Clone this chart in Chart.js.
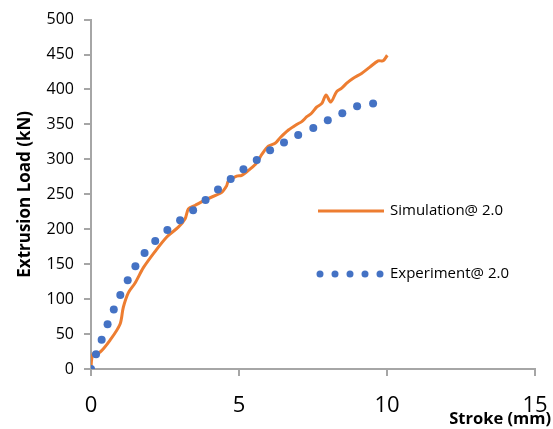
<!DOCTYPE html>
<html>
<head>
<meta charset="utf-8">
<script src="https://cdn.jsdelivr.net/npm/chart.js@4"></script>
<style>
    html, body { margin: 0; padding: 0; background: #fff; }
    #wrap { width: 553px; height: 429px; position: relative; }
</style>
</head>
<body>
<div id="wrap"><canvas id="loadChart"></canvas></div>
<script>
// 시뮬레이션 (stroke mm, load kN)
const simStroke = [0, 0.02, 0.08, 0.30, 0.64, 0.98, 1.09, 1.26, 1.49, 1.77, 2.16, 2.56, 2.95, 3.18, 3.29, 3.51, 3.91, 4.42, 4.58,
    4.64, 4.92, 5.09, 5.37, 5.60, 5.77, 5.99, 6.22, 6.39, 6.67, 6.95, 7.12, 7.29, 7.45, 7.63, 7.80, 7.94, 8.10, 8.30, 8.47, 8.64,
    8.86, 9.14, 9.42, 9.70, 9.87, 10.01];
const simLoad = [1, 13, 22, 24, 41, 64, 88, 109, 123, 145, 168, 189, 203, 215, 229, 234, 243, 253, 262,
    269, 276, 277, 286, 295, 307, 319, 323, 331, 342, 350, 354, 361, 366, 375, 380, 392, 382, 397, 402, 409,
    416, 423, 432, 441, 441, 449];

// 실험값
const expStroke = [0, 0.17, 0.36, 0.56, 0.77, 0.99, 1.24, 1.50, 1.81, 2.17, 2.58, 3.01, 3.45, 3.87, 4.29,
    4.72, 5.15, 5.60, 6.05, 6.52, 7.00, 7.51, 8.00, 8.49, 8.99, 9.53];
const expLoad = [0, 21, 42, 64, 85, 106, 127, 147, 166, 183, 199, 213, 227, 242, 257,
    272, 286, 299, 313, 324, 335, 345, 356, 366, 376, 380];

const seriesLabels = ['Simulation@ 2.0', 'Experiment@ 2.0'];
const xTicks = [0, 5, 10, 15];
const yTicks = [0, 50, 100, 150, 200, 250, 300, 350, 400, 450, 500];

const ORANGE = '#ED7D31';
const BLUE = '#4472C4';
const AXIS = '#a6a6a6';
const FONT = "'Open Sans', sans-serif";

// 범례 + x축 제목 직접 그리기
const extrasPlugin = {
    id: 'extras',
    afterDraw(chart) {
        const ctx = chart.ctx;
        ctx.save();
        // 범례
        ctx.strokeStyle = ORANGE;
        ctx.lineWidth = 3;
        ctx.beginPath();
        ctx.moveTo(318, 211);
        ctx.lineTo(384, 211);
        ctx.stroke();
        ctx.fillStyle = BLUE;
        [320, 335, 350, 365, 380].forEach(px => {
            ctx.beginPath();
            ctx.arc(px, 274, 3.5, 0, Math.PI * 2);
            ctx.fill();
        });
        ctx.fillStyle = '#000';
        ctx.font = '15px ' + FONT;
        ctx.textBaseline = 'middle';
        ctx.textAlign = 'left';
        ctx.fillText(seriesLabels[0], 390, 211);
        ctx.fillText(seriesLabels[1], 390, 274);
        // x축 제목
        ctx.font = 'bold 16.5px ' + FONT;
        ctx.textAlign = 'right';
        ctx.fillText('Stroke (mm)', 551, 419);
        ctx.restore();
    }
};

new Chart(document.getElementById('loadChart'), {
    type: 'scatter',
    data: {
        datasets: [
            {
                label: seriesLabels[0],
                data: simStroke.map((x, i) => ({ x: x, y: simLoad[i] })),
                showLine: true,
                borderColor: ORANGE,
                borderWidth: 3,
                pointRadius: 0,
                tension: 0.3,
                order: 2
            },
            {
                label: seriesLabels[1],
                data: expStroke.map((x, i) => ({ x: x, y: expLoad[i] })),
                showLine: false,
                backgroundColor: BLUE,
                borderColor: BLUE,
                pointRadius: 4,
                pointBorderWidth: 0,
                order: 1
            }
        ]
    },
    options: {
        responsive: true,
        maintainAspectRatio: false,
        animation: false,
        layout: { padding: { top: 15, right: 18, left: 0, bottom: 0 } },
        plugins: {
            legend: { display: false },
            tooltip: { enabled: false }
        },
        scales: {
            x: {
                type: 'linear',
                min: 0,
                max: 15,
                afterBuildTicks: s => { s.ticks = xTicks.map(v => ({ value: v })); },
                afterFit: s => { s.height = 60; s.paddingLeft = 0; s.paddingRight = 0; },
                border: { color: AXIS, width: 2 },
                grid: { drawOnChartArea: false, color: AXIS, lineWidth: 2, tickLength: 7 },
                ticks: { color: '#000', font: { family: FONT, size: 22 }, padding: 17, maxRotation: 0 }
            },
            y: {
                type: 'linear',
                min: 0,
                max: 500,
                afterBuildTicks: s => { s.ticks = yTicks.map(v => ({ value: v })); },
                afterFit: s => { s.width = 91; },
                border: { color: AXIS, width: 2 },
                grid: { drawOnChartArea: false, color: AXIS, lineWidth: 2, tickLength: 7 },
                ticks: { color: '#000', font: { family: FONT, size: 16 }, padding: 10 },
                title: {
                    display: true,
                    text: 'Extrusion Load (kN)',
                    color: '#000',
                    font: { family: FONT, size: 17, weight: 'bold' },
                    padding: { top: 15, bottom: 4 }
                }
            }
        }
    },
    plugins: [extrasPlugin]
});
</script>
</body>
</html>
